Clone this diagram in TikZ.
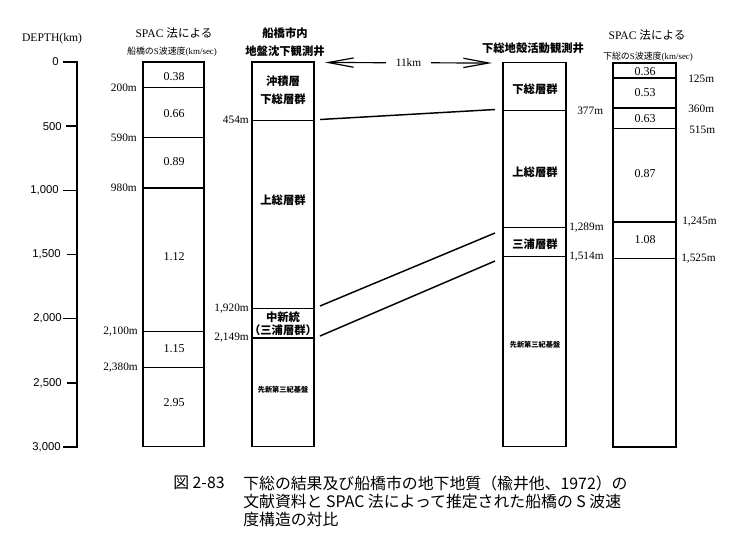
\documentclass[tikz,border=0pt]{standalone}
\usepackage{fontspec}
\setmainfont{Liberation Serif}
\newfontfamily\jpfont{Noto Sans CJK JP}
\newfontfamily\axfont{Liberation Sans}
\usetikzlibrary{arrows.meta}
\tikzset{
	col/.style={line width=1.1pt},
	val/.style={font=\fontsize{9}{9}\selectfont, inner sep=0pt},
	mlab/.style={font=\fontsize{8.5}{8.5}\selectfont, inner sep=0pt},
	axlab/.style={font=\axfont\fontsize{8.5}{8.5}\selectfont, anchor=east, inner sep=0pt},
	geo/.style={font=\jpfont\bfseries\fontsize{8.5}{8.5}\selectfont, inner sep=0pt},
	basement/.style={font=\jpfont\bfseries\fontsize{5.4}{5.4}\selectfont, inner sep=0pt},
	spac/.style={font=\fontsize{8.7}{8.7}\selectfont, inner sep=0pt},
	sub/.style={font=\fontsize{6.7}{6.7}\selectfont, inner sep=0pt},
	caption/.style={font=\jpfont\fontsize{11.9}{11.9}\selectfont, anchor=west, inner sep=0pt}
}

\begin{document}
\begin{tikzpicture}[x=0.75pt, y=-0.75pt, >={Straight Barb[length=19pt,width=7pt]}]
	\useasboundingbox (0,0) rectangle (737,551);

	% Depth axis
	\node[font=\fontsize{8.7}{8.7}\selectfont, inner sep=0pt] (depth) at (52,39) {DEPTH(km)};
	\draw[col] (63,62) -- (77,62) -- (77,447) -- (63,447);
	\draw[col] (66,126.2) -- (77,126.2);
	\draw[col] (63,190.3) -- (77,190.3);
	\draw[col] (67,254.5) -- (77,254.5);
	\draw[col] (63,318.7) -- (77,318.7);
	\draw[col] (67,382.8) -- (77,382.8);
	\node[axlab] (d0) at (59,62) {0};
	\node[axlab] (d500) at (62,126.2) {500};
	\node[axlab] (d1000) at (59,190.3) {1,000};
	\node[axlab] (d1500) at (61,254.5) {1,500};
	\node[axlab] (d2000) at (62,318.7) {2,000};
	\node[axlab] (d2500) at (62,382.8) {2,500};
	\node[axlab] (d3000) at (61,447) {3,000};

	% SPAC column, Funabashi
	\node[spac] (spacF) at (174,33) {SPAC {\jpfont 法による}};
	\node[sub] (vsF) at (172,52) {{\jpfont 船橋の}S{\jpfont 波速度}(km/sec)};
	\draw[col] (143,62) rectangle (204,446.5);
	\draw[col] (143,87.7) -- (204,87.7);
	\draw[col] (143,137.7) -- (204,137.7);
	\draw[col] (143,187.8) -- (204,187.8);
	\draw[col] (143,331.5) -- (204,331.5);
	\draw[col] (143,367.4) -- (204,367.4);
	\node[mlab, anchor=east] (m200) at (137,87.7) {200m};
	\node[mlab, anchor=east] (m590) at (137,137.7) {590m};
	\node[mlab, anchor=east] (m980) at (137,187.8) {980m};
	\node[mlab, anchor=east] (m2100) at (138,331.5) {2,100m};
	\node[mlab, anchor=east] (m2380) at (138,367.4) {2,380m};
	\node[val] (v038) at (174,77) {0.38};
	\node[val] (v066) at (174,114) {0.66};
	\node[val] (v089) at (174,162) {0.89};
	\node[val] (v112) at (174,257) {1.12};
	\node[val] (v115) at (174,349) {1.15};
	\node[val] (v295) at (174,403) {2.95};

	% Funabashi subsidence well
	\node[geo] (wellF1) at (285,33) {船橋市内};
	\node[geo] (wellF2) at (285,51) {地盤沈下観測井};
	\draw[col] (252,62) rectangle (314,446.5);
	\draw[col] (252,120.3) -- (314,120.3);
	\draw[col] (252,308.4) -- (314,308.4);
	\draw[col] (252,337.8) -- (314,337.8);
	\node[mlab, anchor=east] (m454) at (249,120.3) {454m};
	\node[mlab, anchor=east] (m1920) at (249,308.4) {1,920m};
	\node[mlab, anchor=east] (m2149) at (249,337.8) {2,149m};
	\node[geo] (alluv) at (283,81) {沖積層};
	\node[geo] (shimF) at (283,99) {下総層群};
	\node[geo] (kazF) at (283,200) {上総層群};
	\node[geo] (mioF) at (283,317) {中新統};
	\node[geo] (miuF) at (283,330) {（三浦層群）};
	\node[basement] (baseF) at (283,390) {先新第三紀基盤};

	% Shimousa crustal activity well
	\node[geo] (wellS) at (533,48) {下総地殻活動観測井};
	\draw[col] (503,62.5) rectangle (566,446.5);
	\draw[col] (503,110.4) -- (566,110.4);
	\draw[col] (503,227.4) -- (566,227.4);
	\draw[col] (503,256.3) -- (566,256.3);
	\node[mlab, anchor=west] (m377) at (577,110.4) {377m};
	\node[mlab, anchor=west] (m1289) at (569,228) {1,289m};
	\node[mlab, anchor=west] (m1514) at (569,257) {1,514m};
	\node[geo] (shimS) at (535,89) {下総層群};
	\node[geo] (kazS) at (535,172) {上総層群};
	\node[geo] (miuS) at (535,244) {三浦層群};
	\node[basement] (baseS) at (535,345) {先新第三紀基盤};

	% SPAC column, Shimousa
	\node[spac] (spacS) at (647,35) {SPAC {\jpfont 法による}};
	\node[sub] (vsS) at (648,57) {{\jpfont 下総の}S{\jpfont 波速度}(km/sec)};
	\draw[col] (613,63) rectangle (676,447);
	\draw[col] (613,78) -- (676,78);
	\draw[col] (613,108.2) -- (676,108.2);
	\draw[col] (613,128.6) -- (676,128.6);
	\draw[col] (613,221.8) -- (676,221.8);
	\draw[col] (613,258.5) -- (676,258.5);
	\node[mlab, anchor=west] (m125) at (688,79) {125m};
	\node[mlab, anchor=west] (m360) at (688,108.5) {360m};
	\node[mlab, anchor=west] (m515) at (689,130) {515m};
	\node[mlab, anchor=west] (m1245) at (682,222) {1,245m};
	\node[mlab, anchor=west] (m1525) at (681,259) {1,525m};
	\node[val] (v036) at (645,71.5) {0.36};
	\node[val] (v053) at (645,93) {0.53};
	\node[val] (v063) at (645,119) {0.63};
	\node[val] (v087) at (645,174) {0.87};
	\node[val] (v108) at (645,240) {1.08};

	% Distance between the wells
	\coordinate (topF) at (325,62.5);
	\coordinate (topS) at (492,63);
	\draw[<->, line width=0.9pt] (topF) -- (topS)
	node[midway, fill=white, font=\fontsize{8.5}{8.5}\selectfont, inner xsep=7pt, inner ysep=1pt] (dist) {11km};

	% Correlation lines
	\coordinate (f454) at (320,119.5);
	\coordinate (s377) at (495,109.5);
	\coordinate (f1920) at (320,306);
	\coordinate (s1289) at (495,233);
	\coordinate (f2149) at (320,336);
	\coordinate (s1514) at (495,261);
	\draw[col] (f454) -- (s377);
	\draw[col] (f1920) -- (s1289);
	\draw[col] (f2149) -- (s1514);

	% Caption
	\node[caption] (fig) at (173,483) {図 2-83};
	\node[caption] (cap1) at (243,483) {下総の結果及び船橋市の地下地質（楡井他、1972）の};
	\node[caption] (cap2) at (243,501) {文献資料と SPAC 法によって推定された船橋の S 波速};
	\node[caption] (cap3) at (243,519) {度構造の対比};
\end{tikzpicture}
\end{document}
